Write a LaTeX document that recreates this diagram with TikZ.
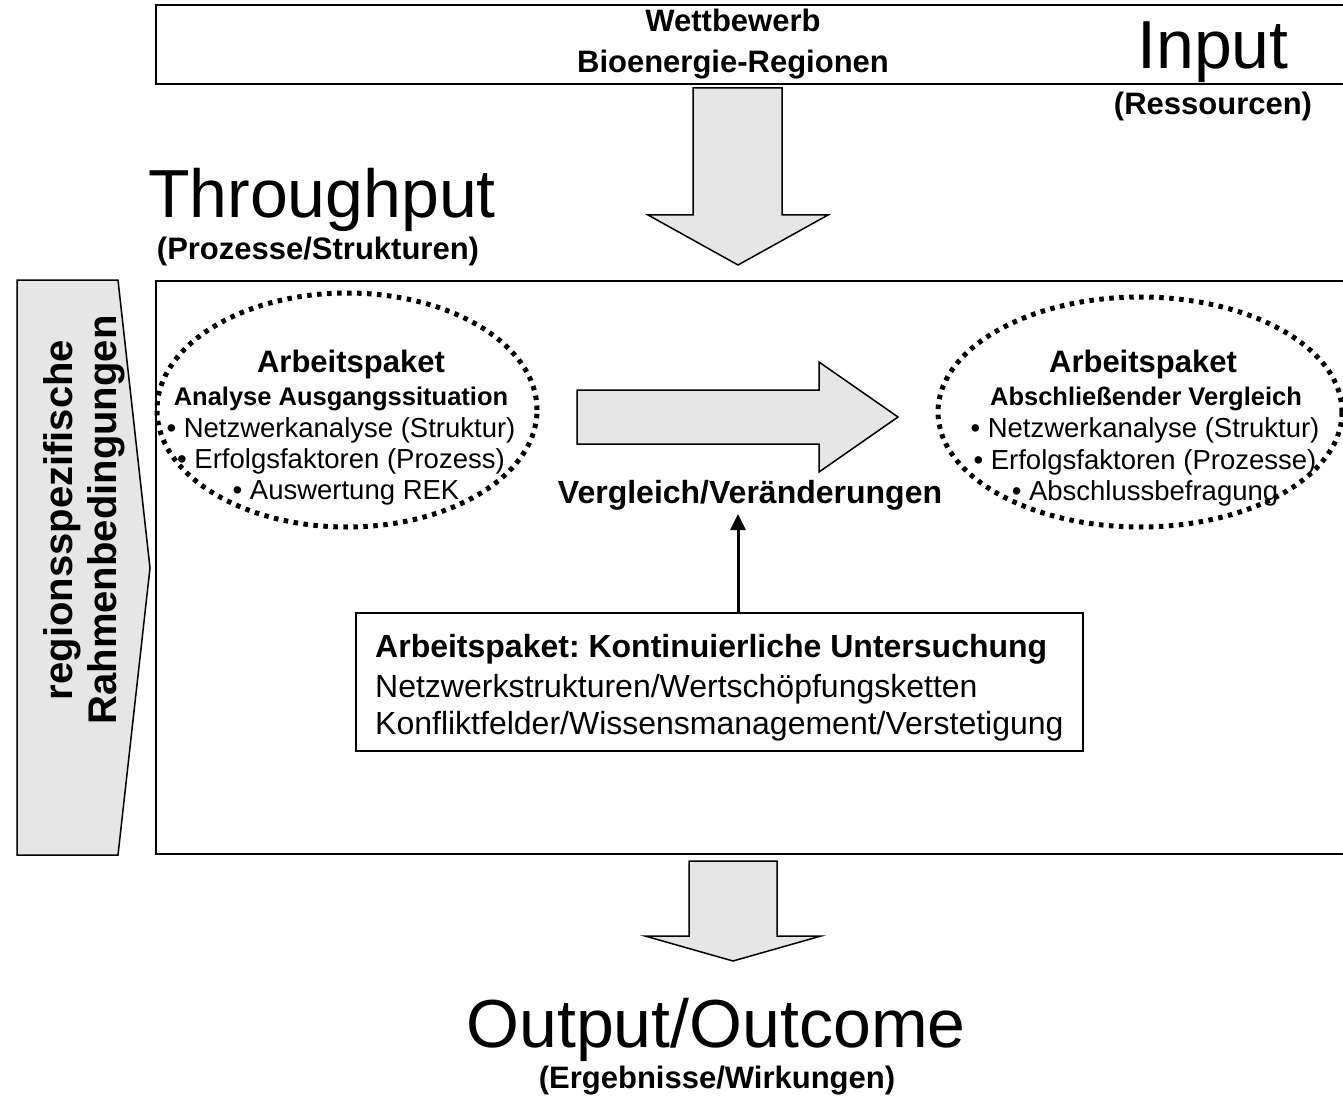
\documentclass[tikz,border=0pt]{standalone}
\usepackage{fontspec}
\setmainfont{Liberation Sans}
\usetikzlibrary{shapes.geometric,arrows.meta}
\definecolor{arrowgray}{HTML}{E6E6E6}
\newcommand{\fsz}[2]{\fontsize{#1}{#2}\selectfont}
\frenchspacing
\tikzset{
  frame/.style={draw, line width=1.8, inner sep=0, anchor=north west},
  fatarrow/.style={draw, line width=1.5, fill=arrowgray, line join=miter},
  dotell/.style={ellipse, draw, line width=5, dash pattern=on 4.5 off 5.5, inner sep=0},
  title/.style={anchor=base, inner sep=0, font=\fsz{68}{80}},
  subtitle/.style={anchor=base, inner sep=0, font=\fsz{31}{37}\bfseries},
  headtxt/.style={anchor=base, inner sep=0, font=\fsz{31}{37}\bfseries},
  aphead/.style={anchor=base, inner sep=0, font=\fsz{31}{37}\bfseries},
  apsub/.style={anchor=base, inner sep=0, font=\fsz{25.5}{30}\bfseries},
  apitem/.style={anchor=base, inner sep=0, font=\fsz{27.5}{32}},
  ktext/.style={anchor=base west, inner sep=0, font=\fsz{32}{38}}
}
\begin{document}
\begin{tikzpicture}[x=1pt,y=-1pt]
\useasboundingbox (0,0) rectangle (1343,1099);

% top box
\node (topbox) [frame, minimum width=1210, minimum height=79] at (155,4) {};
\node (wett) [headtxt] at (733,32) {Wettbewerb};
\node (bioreg) [headtxt] at (733,73) {Bioenergie-Regionen};
\node (input) [title] at (1213,69) {Input};
\node (ressourcen) [subtitle] at (1213,115) {(Ressourcen)};

% top fat arrow
\draw[fatarrow] (693,88) -- (782,88) -- (782,215) -- (828,215) -- (738,265)
  -- (648,215) -- (693,215) -- cycle;

% Throughput
\node (through) [title] at (322,218) {Throughput};
\node (prozesse) [subtitle] at (318,259) {(Prozesse/Strukturen)};

% main box
\node (mainbox) [frame, minimum width=1210, minimum height=573] at (155,280) {};

% left side arrow
\draw[fatarrow] (17,280) -- (118,280) -- (150,568) -- (118,855) -- (17,855) -- cycle;
\node (rahmen) [rotate=90, align=center, inner sep=0, font=\fsz{40}{44}\bfseries]
  at (84,520) {regionsspezifische\\Rahmenbedingungen};

% left ellipse
\node (ellA) [dotell, minimum width=380, minimum height=234] at (347,410) {};
\node (apA) [aphead] at (351,372) {Arbeitspaket};
\node (apAsub) [apsub] at (341,405) {Analyse Ausgangssituation};
\node (apA1) [apitem] at (341,437) {• Netzwerkanalyse (Struktur)};
\node (apA2) [apitem] at (341,468) {• Erfolgsfaktoren (Prozess)};
\node (apA3) [apitem] at (346,499) {• Auswertung REK};

% right ellipse
\node (ellB) [dotell, minimum width=404, minimum height=230] at (1140,412) {};
\node (apB) [aphead] at (1143,372) {Arbeitspaket};
\node (apBsub) [apsub] at (1146,405) {Abschließender Vergleich};
\node (apB1) [apitem] at (1145,437) {• Netzwerkanalyse (Struktur)};
\node (apB2) [apitem] at (1145,469) {• Erfolgsfaktoren (Prozesse)};
\node (apB3) [apitem] at (1145,500) {• Abschlussbefragung};

% big right arrow
\draw[fatarrow] (577,390) -- (819,390) -- (819,362) -- (898,417) -- (819,472)
  -- (819,444) -- (577,444) -- cycle;
\node (vergl) [headtxt, font=\fsz{32}{38}\bfseries] at (750,503) {Vergleich/Veränderungen};

% bottom box
\node (kbox) [draw, line width=1.5, anchor=north west, minimum width=727,
  minimum height=138, inner sep=0] at (355,612) {};
\node (k1) [ktext, font=\fsz{32}{38}\bfseries] at (375,657) {Arbeitspaket: Kontinuierliche Untersuchung};
\node (k2) [ktext] at (375,697) {Netzwerkstrukturen/Wertschöpfungsketten};
\node (k3) [ktext] at (375,734) {Konfliktfelder/Wissensmanagement/Verstetigung};

\coordinate (arrtip) at (738,514);
\draw[line width=3, -{Triangle[length=16,width=15]}] (kbox.north -| arrtip) -- (arrtip);

% bottom fat arrow
\draw[fatarrow] (689,861) -- (777,861) -- (777,936) -- (821,936) -- (733,961)
  -- (645,936) -- (689,936) -- cycle;

% Output
\node (output) [title] at (716,1047) {Output/Outcome};
\node (ergebnisse) [subtitle] at (717,1088) {(Ergebnisse/Wirkungen)};
\end{tikzpicture}
\end{document}
